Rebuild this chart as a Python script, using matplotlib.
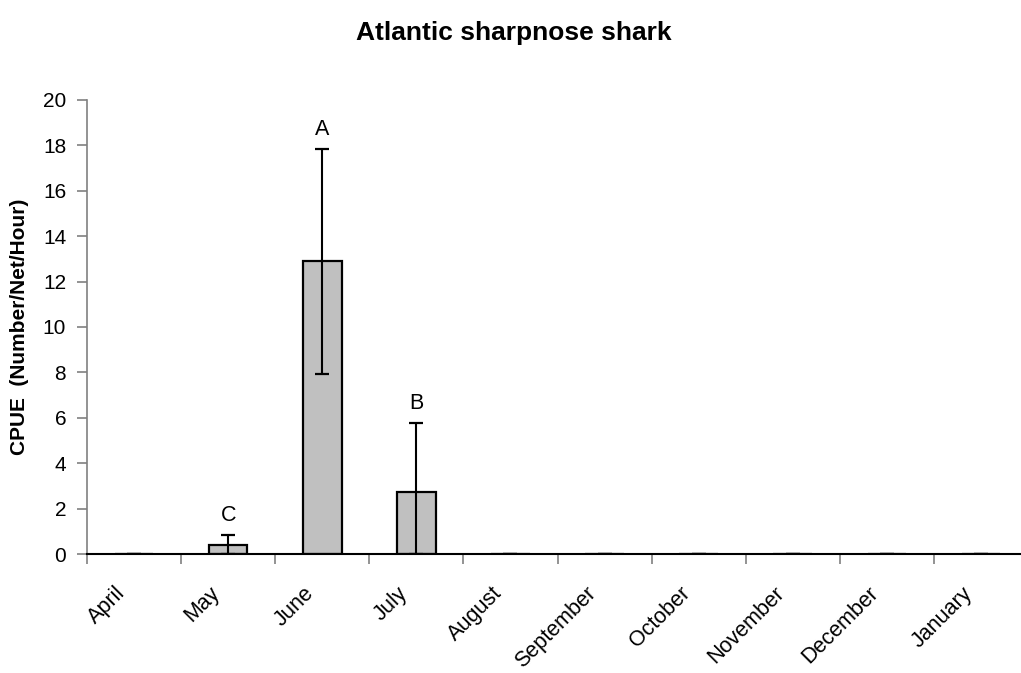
import matplotlib
matplotlib.use("Agg")
import matplotlib.pyplot as plt
import matplotlib.transforms as mtransforms
import numpy as np

months = ["April", "May", "June", "July", "August", "September",
          "October", "November", "December", "January"]
cpue = [0.0, 0.4, 12.9, 2.75, 0.0, 0.0, 0.0, 0.0, 0.0, 0.0]
err_upper = [0.0, 0.45, 4.95, 3.0, 0.0, 0.0, 0.0, 0.0, 0.0, 0.0]
err_lower = [0.0, 0.4, 4.95, 2.75, 0.0, 0.0, 0.0, 0.0, 0.0, 0.0]
letters = {1: "C", 2: "A", 3: "B"}
yticks = list(range(0, 21, 2))

plt.rcParams['font.family'] = ['Liberation Sans', 'DejaVu Sans']

W, H = 1021, 673
fig = plt.figure(figsize=(W / 100, H / 100), dpi=100)
left, right, bottom, top = 87, 1028, 554, 100
ax = fig.add_axes([left / W, 1 - bottom / H, (right - left) / W, (bottom - top) / H])

x = np.arange(len(months))
ax.bar(x, cpue, width=0.41, color="#C0C0C0", edgecolor="black", linewidth=1.6, zorder=2)
ax.errorbar(x, cpue, yerr=[err_lower, err_upper], fmt="none", ecolor="black",
            elinewidth=1.5, capsize=4.8, capthick=1.6, zorder=3)

for i, lab in letters.items():
    ax.text(x[i], cpue[i] + err_upper[i] + 0.4, lab, ha="center", va="bottom", fontsize=15.5)

ax.set_xlim(-0.5, len(months) - 0.5)
ax.set_ylim(0, 20)
ax.set_yticks(yticks)
ax.set_yticklabels([str(v) for v in yticks], fontsize=15)
ax.set_xticks(x)
ax.set_xticklabels(months, rotation=45, ha="right", va="top", rotation_mode="anchor", fontsize=15.5)
ax.set_xticks(np.arange(-0.5, len(months), 1.0), minor=True)
ax.tick_params(axis="x", which="major", length=0, pad=12)
ax.tick_params(axis="x", which="minor", length=7, width=1.2, color="#808080", direction="out")
ax.tick_params(axis="y", length=7, width=1.2, color="#808080", direction="out", pad=8)

offset = mtransforms.ScaledTranslation(-19 / 100, -12 / 100, fig.dpi_scale_trans)
for lbl in ax.get_xticklabels():
    lbl.set_transform(lbl.get_transform() + offset)

for s in ["top", "right"]:
    ax.spines[s].set_visible(False)
ax.spines["left"].set_color("#808080")
ax.spines["left"].set_linewidth(1.2)
ax.spines["bottom"].set_color("black")
ax.spines["bottom"].set_linewidth(1.5)

ax.set_ylabel("CPUE  (Number/Net/Hour)", fontsize=15, fontweight="bold", labelpad=10)
fig.text(514 / W, 1 - 33 / H, "Atlantic sharpnose shark", ha="center", va="center",
         fontsize=19, fontweight="bold")

fig.savefig("out.png", dpi=100)
